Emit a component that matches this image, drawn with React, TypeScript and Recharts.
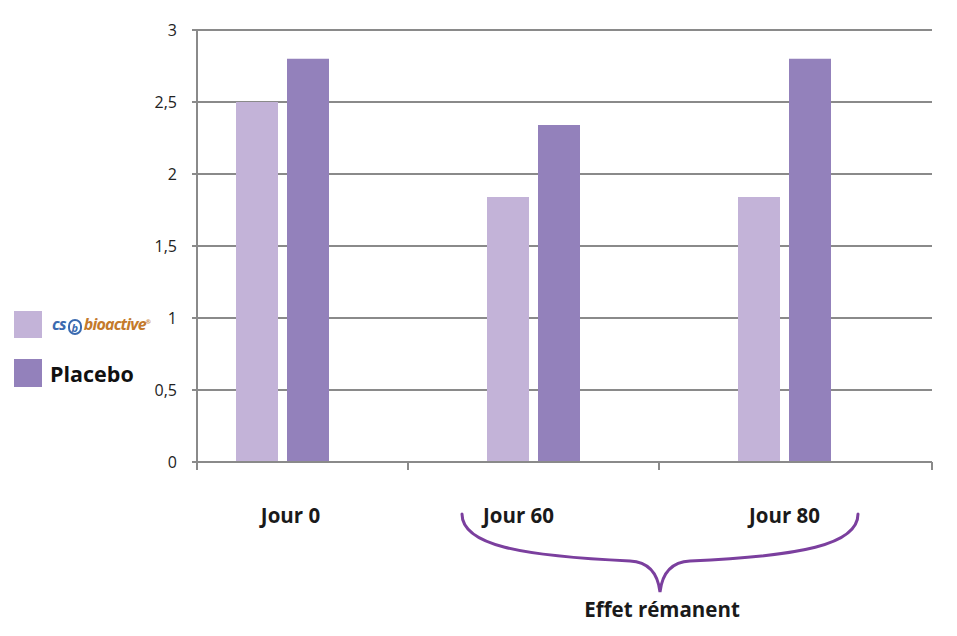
import React from 'react';
import { BarChart, Bar, XAxis, YAxis, CartesianGrid, Legend } from 'recharts';

const categories = ['Jour 0', 'Jour 60', 'Jour 80'];
const csBioactive = [2.5, 1.84, 1.84];
const placebo = [2.8, 2.34, 2.8];
const yTicks = [0, 0.5, 1, 1.5, 2, 2.5, 3];

const chartData = categories.map((day, i) => ({
  day,
  cs: csBioactive[i],
  placebo: placebo[i],
}));

const LIGHT = '#c3b3d8';
const DARK = '#9381bb';
const GRID = '#8a8a8a';
const PLOT_LEFT = 197;
const PLOT_RIGHT = 932;
const BAND = 251;

const fmt = (v: number) => String(v).replace('.', ',');

const DayTick = (props: any) => {
  const { x, y, payload, index } = props;
  const edges: number[] = [];
  edges.push(index === 0 ? PLOT_LEFT : x - BAND / 2);
  if (index === categories.length - 1) edges.push(PLOT_RIGHT);
  return (
    <g>
      {edges.map((ex, k) => (
        <line key={k} x1={ex} x2={ex} y1={y} y2={y + 8} stroke={GRID} strokeWidth={2} />
      ))}
      <text
        x={x + (index === 1 ? -15 : index === 2 ? 0 : 8)}
        y={y + 61}
        textAnchor="middle"
        fontFamily="'Open Sans', sans-serif"
        fontWeight={700}
        fontSize={20.5}
        fill="#1a1a1a"
      >
        {payload.value}
      </text>
    </g>
  );
};

const LegendBox = () => (
  <div style={{ fontFamily: "'Open Sans', sans-serif" }}>
    <div style={{ display: 'flex', alignItems: 'center', height: 28 }}>
      <div style={{ width: 28, height: 27, background: LIGHT }} />
      <span
        style={{
          marginLeft: 10,
          fontSize: 16,
          fontWeight: 700,
          fontStyle: 'italic',
          letterSpacing: -0.8,
        }}
      >
        <span style={{ color: '#3a6ab0' }}>cs</span>
        <span
          style={{
            display: 'inline-block',
            width: 14,
            height: 16,
            borderRadius: 8,
            border: '2px solid #3a6ab0',
            color: '#3a6ab0',
            fontSize: 11,
            lineHeight: '13px',
            textAlign: 'center',
            margin: '0 2px',
            boxSizing: 'border-box',
            verticalAlign: -2,
            letterSpacing: 0,
          }}
        >
          b
        </span>
        <span style={{ color: '#c47a2c' }}>bioactive</span>
        <sup style={{ color: '#c47a2c', fontSize: 6 }}>®</sup>
      </span>
    </div>
    <div style={{ display: 'flex', alignItems: 'center', height: 28, marginTop: 21 }}>
      <div style={{ width: 28, height: 28, background: DARK }} />
      <span style={{ marginLeft: 8, fontSize: 21.5, fontWeight: 700, color: '#111' }}>Placebo</span>
    </div>
  </div>
);

export default function App() {
  return (
    <div style={{ position: 'absolute', left: 0, top: 0, width: 957, height: 636, background: '#fff' }}>
      <BarChart
        width={957}
        height={636}
        data={chartData}
        margin={{ top: 30, right: 957 - PLOT_RIGHT, left: 0, bottom: 0 }}
        barSize={42}
        barGap={9}
      >
        <CartesianGrid horizontal vertical={false} stroke={GRID} strokeWidth={2} />
        <YAxis
          width={PLOT_LEFT}
          domain={[0, 3]}
          ticks={yTicks}
          tickFormatter={fmt}
          axisLine={{ stroke: GRID, strokeWidth: 2 }}
          tickLine={{ stroke: GRID, strokeWidth: 2 }}
          tickSize={5}
          tickMargin={15}
          tick={{ fontSize: 16, fill: '#222', fontFamily: "'Open Sans', sans-serif" }}
        />
        <XAxis
          dataKey="day"
          height={174}
          padding={{ left: -40, right: 22 }}
          axisLine={{ stroke: GRID, strokeWidth: 2 }}
          tickLine={false}
          tickSize={0}
          tickMargin={0}
          interval={0}
          tick={<DayTick />}
        />
        <Legend
          layout="horizontal"
          verticalAlign="middle"
          align="center"
          content={<LegendBox />}
          wrapperStyle={{ position: 'absolute', left: 14, top: 310, width: 170 }}
        />
        <Bar dataKey="cs" name="csbioactive" fill={LIGHT} isAnimationActive={false} />
        <Bar dataKey="placebo" name="Placebo" fill={DARK} isAnimationActive={false} />
      </BarChart>
      <svg
        width={957}
        height={636}
        style={{ position: 'absolute', left: 0, top: 0, pointerEvents: 'none' }}
      >
        <path
          d="M 462 514 C 462 545, 520 556, 630 561 C 650 562, 658 575, 660 592 C 662 575, 670 562, 690 561 C 800 556, 858 545, 858 514"
          fill="none"
          stroke="#7b3f9e"
          strokeWidth={3}
          strokeLinecap="round"
        />
        <text
          x={662}
          y={617}
          textAnchor="middle"
          fontFamily="'Open Sans', sans-serif"
          fontWeight={700}
          fontSize={20.5}
          fill="#1a1a1a"
        >
          Effet rémanent
        </text>
      </svg>
    </div>
  );
}
